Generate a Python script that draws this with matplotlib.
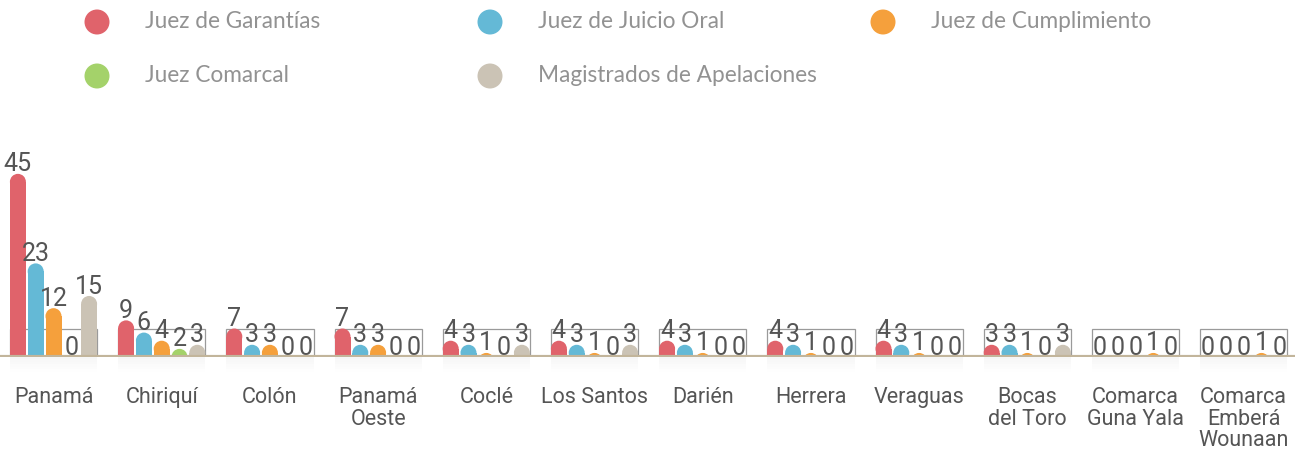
import matplotlib
matplotlib.use("Agg")
import matplotlib.pyplot as plt
from matplotlib.patches import Ellipse, Rectangle
import numpy as np

# data
regions = ["Panamá", "Chiriquí", "Colón", "Panamá\nOeste", "Coclé", "Los Santos",
           "Darién", "Herrera", "Veraguas", "Bocas\ndel Toro", "Comarca\nGuna Yala",
           "Comarca\nEmberá\nWounaan"]
series = ["Juez de Garantías", "Juez de Juicio Oral", "Juez de Cumplimiento",
          "Juez Comarcal", "Magistrados de Apelaciones"]
garantias = [45, 9, 7, 7, 4, 4, 4, 4, 4, 3, 0, 0]
juicio_oral = [23, 6, 3, 3, 3, 3, 3, 3, 3, 3, 0, 0]
cumplimiento = [12, 4, 3, 3, 1, 1, 1, 1, 1, 1, 0, 0]
comarcal = [0, 2, 0, 0, 0, 0, 0, 0, 0, 0, 1, 1]
magistrados = [15, 3, 0, 0, 3, 3, 0, 0, 0, 3, 0, 0]

colors = ["#e0636b", "#64b9d6", "#f5a03c", "#a4d26a", "#cbc3b5"]
# the comarca bars are drawn orange in the original
color_override = {(3, 10): "#f5a03c", (3, 11): "#f5a03c"}

values = [garantias, juicio_oral, cumplimiento, comarcal, magistrados]

W, H = 1295, 457
fig = plt.figure(figsize=(W / 100, H / 100), dpi=100)

base_px = 357          # baseline from top
px_per_unit = 4.07
ymax = 50
ax_h = ymax * px_per_unit
x0_px, step_px = 53.5, 108.2
ax = fig.add_axes([0, (H - base_px) / H, 1, ax_h / H])
ax.set_xlim(-x0_px / step_px, (W - x0_px) / step_px)
ax.set_ylim(0, ymax)
ax.axis("off")

bar_off = 17.8 / step_px
bar_w = 16 / step_px
ry = 8 / px_per_unit
x = np.arange(len(regions))

label_font = ["Liberation Sans Narrow", "Roboto", "DejaVu Sans"]

for s, vals in enumerate(values):
    for i, v in enumerate(vals):
        xc = x[i] + (s - 2) * bar_off
        c = color_override.get((s, i), colors[s])
        if v > 0:
            # rounded top bar: body from below the baseline (clipped) plus a cap
            ax.bar(xc, v, width=bar_w, bottom=-ry, color=c, linewidth=0, zorder=3)
            ax.add_patch(Ellipse((xc, v - ry), bar_w, 2 * ry, color=c, lw=0, zorder=3))
        ax.text(xc, v + 0.6, str(v), ha="center", va="baseline", fontsize=18,
                color="#555555", family=label_font, zorder=4)

# thin gray boxes around each group (artifact of the original)
for i in range(len(regions)):
    left = x[i] - 2 * bar_off - bar_w / 2
    right = x[i] + 2 * bar_off + bar_w / 2
    ax.add_patch(Rectangle((left, 0), right - left, 6.9, fill=False,
                           edgecolor="#9a9a9a", lw=0.9, zorder=2))
    # faint shadow under the baseline
    for k in range(6):
        ax.add_patch(Rectangle((left, -0.6 * (k + 1)), right - left, 0.6, color="#000000",
                               alpha=0.035 * (1 - k / 6), lw=0, clip_on=False, zorder=1))

ax.axhline(0, color="#c2b59b", lw=3, zorder=5)

for i, r in enumerate(regions):
    ax.text(x[i], -7.3, r, ha="center", va="top", fontsize=15.5, color="#555555",
            family=label_font, linespacing=1.05)

# legend
leg_pos = [(97, 22), (490, 22), (883, 22), (97, 76), (490, 76)]
for (lx, ly), name, c in zip(leg_pos, series, colors):
    fig.patches.append(Ellipse((lx / W, 1 - ly / H), 25 / W, 25 / H,
                               transform=fig.transFigure, color=c, lw=0))
    fig.text((lx + 48) / W, 1 - ly / H, name, ha="left", va="center", fontsize=16.3,
             color="#929292", family=["Lato", "DejaVu Sans"])

fig.savefig("out.png", dpi=100)
